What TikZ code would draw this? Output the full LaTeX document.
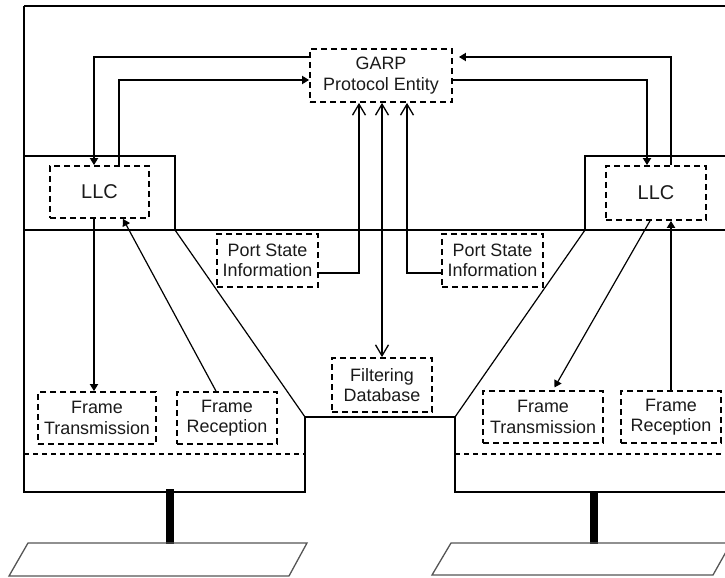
\documentclass[tikz,border=0pt]{standalone}
\usepackage{fontspec}
\setmainfont{Liberation Sans}
\usetikzlibrary{arrows.meta}
\definecolor{ink}{HTML}{1A1A1A}
\definecolor{plate}{HTML}{555555}
\tikzset{
  wall/.style={line width=1.8bp, line join=miter},
  slant/.style={line width=1.2bp},
  fn/.style={draw, line width=1.8bp, dash pattern=on 6bp off 4bp, align=center,
    inner sep=0pt, font=\fontsize{18}{20.5}\selectfont, text=ink},
  llcbox/.style={fn, font=\fontsize{20}{22}\selectfont},
  link/.style={line width=1.8bp, -{Triangle[length=7bp,width=8bp]}},
  thinlink/.style={line width=1.2bp, -{Triangle[length=7bp,width=8bp]}},
  barb/.style={line width=1.8bp, -{Straight Barb[length=11bp,width=13bp,line width=1.3bp]}},
  duplex/.style={line width=1.8bp, {Straight Barb[length=11bp,width=13bp,line width=1.3bp]}-{Straight Barb[length=11bp,width=13bp,line width=1.3bp]}},
  sublayer/.style={line width=1.4bp, dash pattern=on 5bp off 4bp},
  mast/.style={line width=7.5bp},
  medium/.style={draw=plate, line width=1.3bp}
}
\begin{document}
\begin{tikzpicture}[x=1bp, y=-1bp]
\useasboundingbox (0,0) rectangle (725,578);
\clip (0,0) rectangle (725,578);

% bridge outline
\draw[wall] (24,6) -- (730,6);
\draw[wall] (24,6) -- (24,492) -- (305,492) -- (305,417) -- (455,417) -- (455,492) -- (730,492);
\draw[wall] (24,156) -- (175,156) -- (175,230);
\draw[wall] (730,156) -- (585,156) -- (585,230);
\draw[wall] (24,230) -- (730,230);
\draw[slant] (175,230) -- (305,417);
\draw[slant] (585,230) -- (455,417);

% MAC sublayer boundaries
\draw[sublayer] (24,454) -- (305,454);
\draw[sublayer] (455,454) -- (730,454);

% attachments to the LANs
\draw[mast] (170,489) -- (170,544);
\draw[mast] (594,491) -- (594,544);
\draw[medium] (28,543) -- (307,543) -- (289,576) -- (9,576) -- cycle;
\draw[medium] (451,543) -- (731,543) -- (713,575) -- (432,575) -- cycle;

% functional entities
\node[fn, minimum width=142bp, minimum height=53bp] (garp) at (381,75.5) {GARP\\Protocol Entity};
\node[llcbox, minimum width=99bp, minimum height=52bp] (llcL) at (99.5,192) {LLC};
\node[llcbox, minimum width=100bp, minimum height=54bp] (llcR) at (656,193) {LLC};
\node[fn, minimum width=101bp, minimum height=53bp] (psL) at (267.5,260.5) {Port State\\Information};
\node[fn, minimum width=101bp, minimum height=53bp] (psR) at (492.5,260.5) {Port State\\Information};
\node[fn, minimum width=100bp, minimum height=54bp] (fdb) at (382,385) {Filtering\\Database};
\node[fn, minimum width=118bp, minimum height=52bp] (ftL) at (97,418) {Frame\\Transmission};
\node[fn, minimum width=100bp, minimum height=52bp] (frL) at (227,418) {Frame\\Reception};
\node[fn, minimum width=120bp, minimum height=52bp] (ftR) at (543,417) {Frame\\Transmission};
\node[fn, minimum width=100bp, minimum height=52bp] (frR) at (671,417) {Frame\\Reception};

% GARP <-> LLC
\draw[link] ([yshift=18.5bp]garp.west) -| ([xshift=-5.5bp]llcL.north);
\draw[link] ([xshift=19.5bp]llcL.north) |- ([yshift=-4.5bp]garp.west);
\draw[link] ([yshift=-4.5bp]garp.east) -| ([xshift=-9bp]llcR.north);
\draw[link, shorten >=6bp] ([xshift=15bp]llcR.north) |- ([yshift=18.5bp]garp.east);

% port state and filtering database
\draw[barb] ([yshift=-12.5bp]psL.east) -| ([xshift=-22bp]garp.south);
\draw[barb] ([yshift=-12.5bp]psR.west) -| ([xshift=26bp]garp.south);
\draw[duplex] (fdb.north) -- (fdb.north |- garp.south);

% LLC <-> frame transmission / reception
\draw[link] ([xshift=-5.5bp]llcL.south) -- ([xshift=-3bp]ftL.north);
\draw[thinlink] ([xshift=-11bp]frL.north) -- ([xshift=23.5bp]llcL.south);
\draw[thinlink, shorten >=3bp] ([xshift=-6bp]llcR.south) -- ([xshift=10bp]ftR.north);
\draw[link] (frR.north) -- (frR.north |- llcR.south);
\end{tikzpicture}
\end{document}
